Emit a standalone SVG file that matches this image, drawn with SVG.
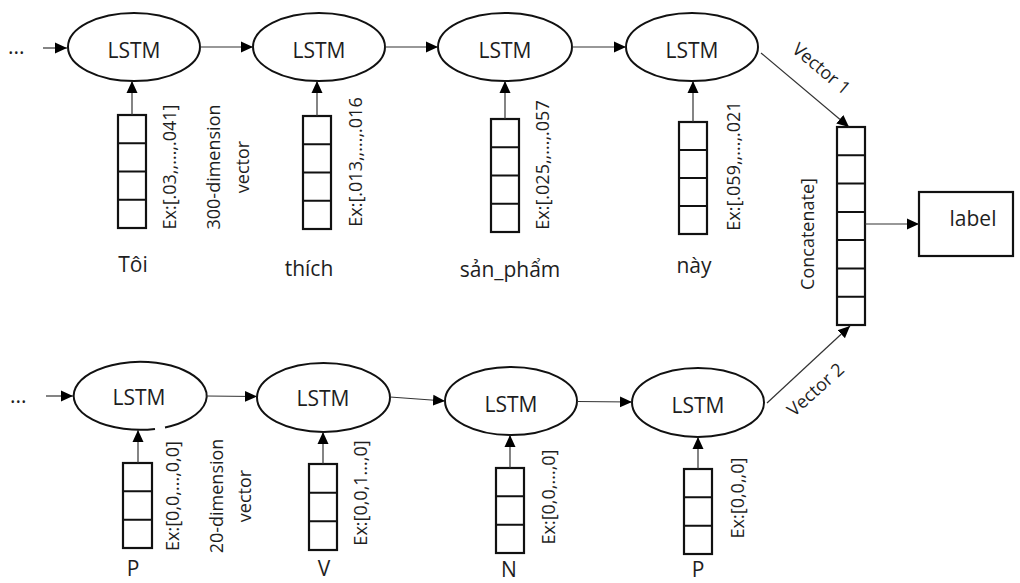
<svg xmlns="http://www.w3.org/2000/svg" width="1020" height="583" viewBox="0 0 1020 583">
<style>
text{font-family:"Open Sans","Noto Sans","Liberation Sans",sans-serif;fill:#1e1e1e}
.ell{fill:none;stroke:#111;stroke-width:2}
.box{fill:#fff;stroke:#111;stroke-width:2.2}
.cell{stroke:#111;stroke-width:2}
.con{stroke:#333;stroke-width:1.2;fill:none;marker-end:url(#ah)}
.lstm{font-size:21px;text-anchor:middle}
.word{font-size:21px;text-anchor:middle}
.rot{font-size:18px;text-anchor:middle;dominant-baseline:central}
</style>
<defs>
<marker id="ah" markerUnits="userSpaceOnUse" markerWidth="12" markerHeight="12" refX="12" refY="6" orient="auto" viewBox="0 0 12 12">
<path d="M0,0.5 L12,6 L0,11.5 z" fill="#000"/>
</marker>
</defs>
<rect width="1020" height="583" fill="#fff"/>

<!-- top row nodes -->
<g id="dots-top"><text x="8" y="54" style="font-size:21px">...</text></g>
<g id="lstm-t1"><ellipse class="ell" cx="134" cy="47" rx="66" ry="34"/><text class="lstm" x="134" y="58">LSTM</text></g>
<g id="lstm-t2"><ellipse class="ell" cx="319" cy="47" rx="66" ry="34"/><text class="lstm" x="319" y="58">LSTM</text></g>
<g id="lstm-t3"><ellipse class="ell" cx="505" cy="47" rx="67" ry="34"/><text class="lstm" x="505" y="58">LSTM</text></g>
<g id="lstm-t4"><ellipse class="ell" cx="692" cy="47" rx="66" ry="34"/><text class="lstm" x="692" y="58">LSTM</text></g>

<g id="vec-t1">
<rect class="box" x="118" y="115" width="28" height="113"/>
<path class="cell" d="M118,143.25H146M118,171.5H146M118,199.75H146"/>
<text class="rot" transform="translate(169,167) rotate(-90)">Ex:[.03,,...,.041]</text>
<text class="word" x="133" y="272">Tôi</text>
</g>
<g id="dim-top">
<text class="rot" transform="translate(213,167) rotate(-90)">300-dimension</text>
<text class="rot" transform="translate(242,167) rotate(-90)">vector</text>
</g>
<g id="vec-t2">
<rect class="box" x="303" y="116" width="28" height="113"/>
<path class="cell" d="M303,144.25H331M303,172.5H331M303,200.75H331"/>
<text class="rot" transform="translate(355,162) rotate(-90)">Ex:[.013,,...,.016</text>
<text class="word" x="309" y="276">thích</text>
</g>
<g id="vec-t3">
<rect class="box" x="491" y="119" width="28" height="113"/>
<path class="cell" d="M491,147.25H519M491,175.5H519M491,203.75H519"/>
<text class="rot" transform="translate(542,165) rotate(-90)">Ex:[.025,,...,.057</text>
<text class="word" x="510" y="277">sản_phẩm</text>
</g>
<g id="vec-t4">
<rect class="box" x="679" y="122" width="28" height="112"/>
<path class="cell" d="M679,150H707M679,178H707M679,206H707"/>
<text class="rot" transform="translate(733,166) rotate(-90)">Ex:[.059,,...,.021</text>
<text class="word" x="694" y="273">này</text>
</g>

<!-- bottom row nodes -->
<g id="dots-bot"><text x="10" y="403" style="font-size:21px">...</text></g>
<g id="lstm-b1"><path class="ell" d="M165,427.4 A66.5 34 0 1 0 155,429"/><text class="lstm" x="139" y="405">LSTM</text></g>
<g id="lstm-b2"><ellipse class="ell" cx="323.5" cy="397.5" rx="66.5" ry="34.5"/><text class="lstm" x="323" y="406">LSTM</text></g>
<g id="lstm-b3"><ellipse class="ell" cx="511" cy="401" rx="66" ry="34"/><text class="lstm" x="511" y="412">LSTM</text></g>
<g id="lstm-b4"><ellipse class="ell" cx="698" cy="402.5" rx="66" ry="34.5"/><text class="lstm" x="698" y="413">LSTM</text></g>

<g id="vec-b1">
<rect class="box" x="123" y="463" width="29" height="85"/>
<path class="cell" d="M123,491.33H152M123,519.67H152"/>
<text class="rot" transform="translate(172,496) rotate(-90)">Ex:[0,0,...,0,0]</text>
<text class="word" x="133" y="576">P</text>
</g>
<g id="dim-bot">
<text class="rot" transform="translate(216,496) rotate(-90)">20-dimension</text>
<text class="rot" transform="translate(244,496) rotate(-90)">vector</text>
</g>
<g id="vec-b2">
<rect class="box" x="309" y="464" width="28" height="86"/>
<path class="cell" d="M309,492.67H337M309,521.33H337"/>
<text class="rot" transform="translate(360,493) rotate(-90)">Ex:[0,0,1...,0]</text>
<text class="word" x="324" y="576">V</text>
</g>
<g id="vec-b3">
<rect class="box" x="496" y="468" width="28" height="85"/>
<path class="cell" d="M496,496.33H524M496,524.67H524"/>
<text class="rot" transform="translate(548,497) rotate(-90)">Ex:[0,0,...,0]</text>
<text class="word" x="509" y="577">N</text>
</g>
<g id="vec-b4">
<rect class="box" x="684" y="469" width="28" height="85"/>
<path class="cell" d="M684,497.33H712M684,525.67H712"/>
<text class="rot" transform="translate(737,498) rotate(-90)">Ex:[0,0,,0]</text>
<text class="word" x="698" y="577">P</text>
</g>

<!-- concatenate -->
<g id="concat">
<rect class="box" x="837" y="127" width="28" height="198"/>
<path class="cell" d="M837,155.3H865M837,183.6H865M837,211.9H865M837,240.1H865M837,268.4H865M837,296.7H865"/>
<text class="rot" transform="translate(807,234) rotate(-90)">Concatenate]</text>
</g>
<g id="label">
<rect class="box" x="919" y="192" width="94" height="64"/>
<text x="973" y="226" style="font-size:21px;text-anchor:middle">label</text>
</g>

<!-- connectors -->
<g id="connectors">
<line class="con" x1="43" y1="48" x2="67" y2="48"/>
<line class="con" x1="200" y1="47" x2="253" y2="47"/>
<line class="con" x1="385" y1="47" x2="438" y2="47"/>
<line class="con" x1="572" y1="47" x2="626" y2="47"/>
<line class="con" x1="132" y1="115" x2="132" y2="81"/>
<line class="con" x1="317" y1="116" x2="317" y2="81"/>
<line class="con" x1="505" y1="119" x2="505" y2="81"/>
<line class="con" x1="693" y1="122" x2="693" y2="81"/>
<line class="con" x1="761" y1="53" x2="849" y2="127"/>
<line class="con" x1="767" y1="403" x2="850" y2="326"/>
<line class="con" x1="865" y1="224" x2="919" y2="224"/>
<line class="con" x1="46" y1="396" x2="73" y2="396"/>
<line class="con" x1="206" y1="396" x2="257" y2="396.5"/>
<line class="con" x1="390" y1="397" x2="445" y2="401"/>
<line class="con" x1="577" y1="401.5" x2="632" y2="402"/>
<line class="con" x1="138" y1="463" x2="138" y2="430"/>
<line class="con" x1="323" y1="464" x2="323" y2="432"/>
<line class="con" x1="510" y1="468" x2="510" y2="435"/>
<line class="con" x1="698" y1="469" x2="698" y2="437"/>
<text class="rot" transform="translate(822,68) rotate(40)">Vector 1</text>
<text class="rot" transform="translate(815,389) rotate(-42)">Vector 2</text>
</g>
</svg>
